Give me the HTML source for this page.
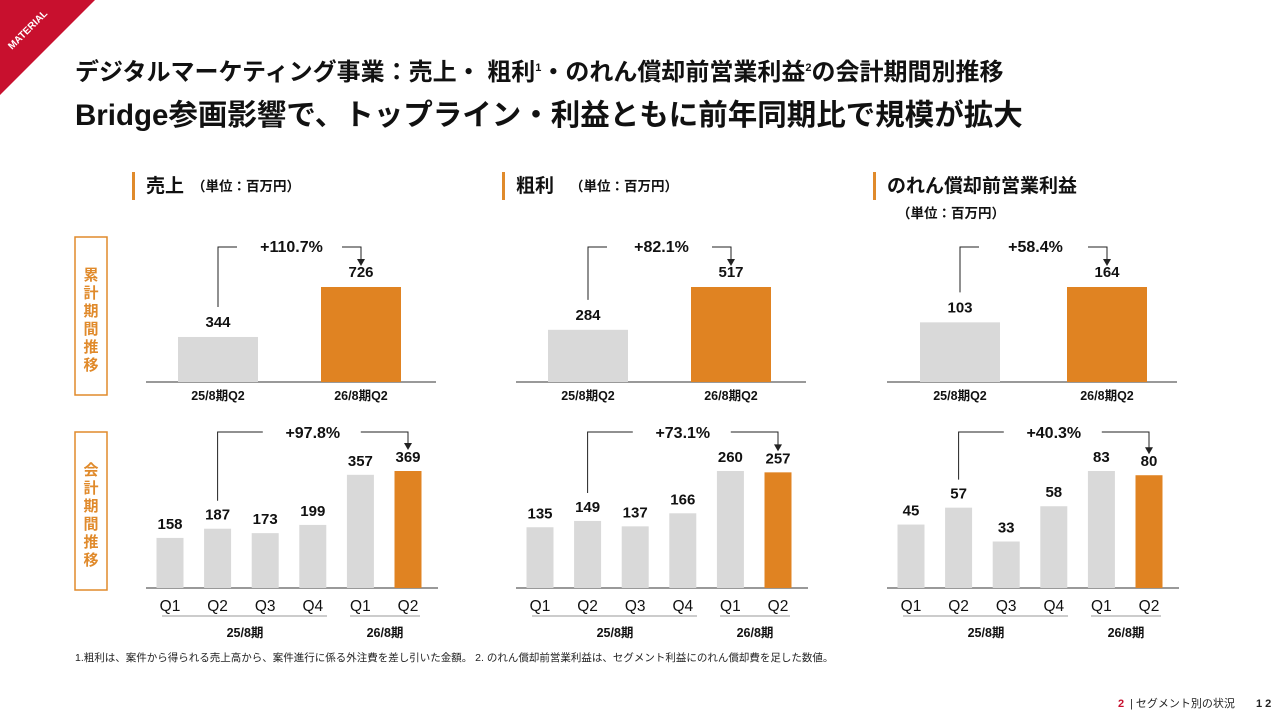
<!DOCTYPE html>
<html><head><meta charset="utf-8">
<style>
body{margin:0;width:1280px;height:720px;overflow:hidden;background:#fff;font-family:"Liberation Sans","Noto Sans CJK JP",sans-serif;}
svg{position:absolute;left:0;top:0}
text{font-family:"Liberation Sans","Noto Sans CJK JP",sans-serif;}
</style></head>
<body>
<svg id="s" width="1280" height="720" viewBox="0 0 1280 720">
<polygon points="0,0 95,0 0,95" fill="#c8102e"/>
<text x="30" y="32" transform="rotate(-45 30 32)" font-size="10" font-weight="bold" fill="#fff" text-anchor="middle">MATERIAL</text>
<text x="75" y="80" font-size="24" font-weight="bold" fill="#111">デジタルマーケティング事業：売上・ 粗利<tspan font-size="11" dy="-9">1</tspan><tspan dy="9">・のれん償却前営業利益</tspan><tspan font-size="11" dy="-9">2</tspan><tspan dy="9">の会計期間別推移</tspan></text>
<text x="75" y="125" font-size="29.5" font-weight="bold" fill="#111">Bridge参画影響で、トップライン・利益ともに前年同期比で規模が拡大</text>
<rect x="75" y="237" width="32" height="158" fill="none" stroke="#e08a2b" stroke-width="1.5"/>
<text font-size="15" font-weight="bold" fill="#e08a2b" text-anchor="middle"><tspan x="91" y="280">累</tspan><tspan x="91" y="298">計</tspan><tspan x="91" y="316">期</tspan><tspan x="91" y="334">間</tspan><tspan x="91" y="352">推</tspan><tspan x="91" y="370">移</tspan></text>
<rect x="75" y="432" width="32" height="158" fill="none" stroke="#e08a2b" stroke-width="1.5"/>
<text font-size="15" font-weight="bold" fill="#e08a2b" text-anchor="middle"><tspan x="91" y="475">会</tspan><tspan x="91" y="493">計</tspan><tspan x="91" y="511">期</tspan><tspan x="91" y="529">間</tspan><tspan x="91" y="547">推</tspan><tspan x="91" y="565">移</tspan></text>
<text x="75" y="661" font-size="10.5" fill="#222">1.粗利は、案件から得られる売上高から、案件進行に係る外注費を差し引いた金額。 2. のれん償却前営業利益は、セグメント利益にのれん償却費を足した数値。</text>
<text x="1118" y="707" font-size="11" font-weight="bold" fill="#c8102e">2</text>
<text x="1130" y="707" font-size="11" fill="#222">|  セグメント別の状況</text>
<text x="1256" y="707" font-size="11" font-weight="bold" fill="#222">1 2</text>
</svg>
<script>
const panelTitles=["売上","粗利","のれん償却前営業利益"];
const cumCategories=["25/8期Q2","26/8期Q2"];
const cumSales=[344,726];
const cumGross=[284,517];
const cumOp=[103,164];
const quarterLabels=["Q1","Q2","Q3","Q4","Q1","Q2"];
const qSales=[158,187,173,199,357,369];
const qGross=[135,149,137,166,260,257];
const qOp=[45,57,33,58,83,80];
const cumGrowth=["+110.7%","+82.1%","+58.4%"];
const qGrowth=["+97.8%","+73.1%","+40.3%"];
const periodLabels=["25/8期","26/8期"];

const NS="http://www.w3.org/2000/svg";
const svg=document.getElementById('s');
function mk(tag,attrs,txt){const e=document.createElementNS(NS,tag);for(const k in attrs)e.setAttribute(k,attrs[k]);if(txt!==undefined)e.textContent=txt;svg.appendChild(e);return e;}
const cumData=[cumSales,cumGross,cumOp];
const qData=[qSales,qGross,qOp];
const offs=[0,370,741];
const cum2Off=[0,0,5];
const GREY="#d9d9d9",OR="#e08322";
for(let p=0;p<3;p++){
  const o=offs[p];
  let e=mk('rect',{x:132+o,y:172,width:3,height:28,fill:'#e08a2b'});
  
  
  e=mk('text',{x:146+o,y:192,'font-size':19,'font-weight':'bold',fill:'#111'},panelTitles[p]);
  
  
  if(p<2){
    e=mk('text',{x:(p==0?192:200)+o,y:191,'font-size':13.5,'font-weight':'bold',fill:'#111'},'（単位：百万円）');
  } else {
    e=mk('text',{x:897,y:218,'font-size':13.5,'font-weight':'bold',fill:'#111'},'（単位：百万円）');
  }
  
  
  const cd=cumData[p];
  const cs=95/Math.max(...cd);
  const base=382;
  const cx=[218+o+(p==2?1:0),361+o+cum2Off[p]];
  e=mk('line',{x1:146+o,x2:436+o,y1:base,y2:base,stroke:'#333','stroke-width':1});
  
  
  const tops=[];
  for(let i=0;i<2;i++){
    const h=cd[i]*cs;tops.push(base-h);
    e=mk('rect',{x:cx[i]-40,y:base-h,width:80,height:h,fill:i?OR:GREY});
    
    
    e=mk('text',{x:cx[i],y:base-h-10,'font-size':15,'font-weight':'bold','text-anchor':'middle',fill:'#111'},cd[i]);
    
    
    e=mk('text',{x:cx[i],y:400,'font-size':12.5,'font-weight':'bold','text-anchor':'middle',fill:'#111'},cumCategories[i]);
    
    
  }
  const ay=247;
  e=mk('path',{d:`M${cx[0]} ${tops[0]-30} V${ay} H${cx[0]+19} M${cx[1]-19} ${ay} H${cx[1]} V${tops[1]-26}`,fill:'none',stroke:'#222','stroke-width':1});
  
  
  e=mk('polygon',{points:`${cx[1]-4},${tops[1]-28} ${cx[1]+4},${tops[1]-28} ${cx[1]},${tops[1]-21}`,fill:'#222'});
  
  
  e=mk('text',{x:(cx[0]+cx[1])/2+2,y:252,'font-size':16,'font-weight':'bold','text-anchor':'middle',fill:'#111'},cumGrowth[p]);
  
  
  const qd=qData[p];
  const qs=117/Math.max(...qd);
  const qb=588;
  e=mk('line',{x1:146+o,x2:438+o,y1:qb,y2:qb,stroke:'#333','stroke-width':1});
  
  
  const qx=i=>170+o+i*47.6;
  const qt=[];
  for(let i=0;i<6;i++){
    const h=qd[i]*qs;qt.push(qb-h);
    e=mk('rect',{x:qx(i)-13.5,y:qb-h,width:27,height:h,fill:i==5?OR:GREY});
    
    
    e=mk('text',{x:qx(i),y:qb-h-9,'font-size':15,'font-weight':'bold','text-anchor':'middle',fill:'#111'},qd[i]);
    
    
    e=mk('text',{x:qx(i),y:611,'font-size':15.5,'text-anchor':'middle',fill:'#111'},quarterLabels[i]);
    
    
  }
  e=mk('line',{x1:162+o,x2:327+o,y1:616,y2:616,stroke:'#999','stroke-width':1});
  
  
  e=mk('line',{x1:350+o,x2:420+o,y1:616,y2:616,stroke:'#999','stroke-width':1});
  
  
  e=mk('text',{x:245+o,y:637,'font-size':12.5,'font-weight':'bold','text-anchor':'middle',fill:'#111'},periodLabels[0]);
  
  
  e=mk('text',{x:385+o,y:637,'font-size':12.5,'font-weight':'bold','text-anchor':'middle',fill:'#111'},periodLabels[1]);
  
  
  const x1=qx(1),x2=qx(5),qy=432;
  e=mk('path',{d:`M${x1} ${qt[1]-28} V${qy} H${(x1+x2)/2-50} M${(x1+x2)/2+48} ${qy} H${x2} V${qt[5]-26}`,fill:'none',stroke:'#222','stroke-width':1});
  
  
  e=mk('polygon',{points:`${x2-4},${qt[5]-28} ${x2+4},${qt[5]-28} ${x2},${qt[5]-21}`,fill:'#222'});
  
  
  e=mk('text',{x:(x1+x2)/2,y:438,'font-size':16,'font-weight':'bold','text-anchor':'middle',fill:'#111'},qGrowth[p]);
  
  
}
</script>
</body></html>
